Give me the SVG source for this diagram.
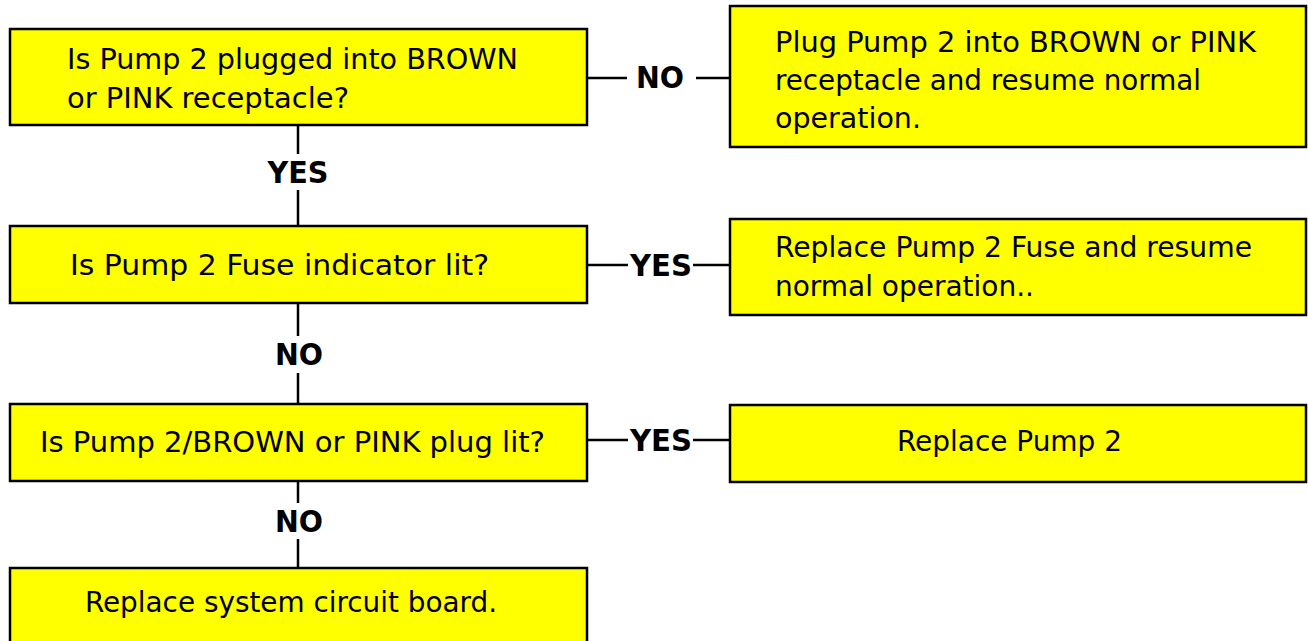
<svg xmlns="http://www.w3.org/2000/svg" width="1308" height="641" viewBox="0 0 1308 641">
<style>
.box{fill:#ffff00;stroke:#000;stroke-width:2.5}
.t{font-family:"DejaVu Sans Condensed","DejaVu Sans",sans-serif;font-size:29px;fill:#000}
.lbl{font-family:"DejaVu Sans Condensed","DejaVu Sans",sans-serif;font-size:30px;font-weight:bold;fill:#000}
.ln{stroke:#000;stroke-width:2.5;fill:none}
</style>
<rect width="1308" height="641" fill="#fff"/>
<g id="connectors">
<line class="ln" x1="587" y1="78" x2="627" y2="78"/>
<line class="ln" x1="696" y1="78" x2="730" y2="78"/>
<text class="lbl" x="660" y="88" text-anchor="middle" textLength="48" lengthAdjust="spacingAndGlyphs">NO</text>
<line class="ln" x1="298" y1="125" x2="298" y2="154"/>
<line class="ln" x1="298" y1="190" x2="298" y2="226"/>
<text class="lbl" x="298" y="183" text-anchor="middle" textLength="61" lengthAdjust="spacingAndGlyphs">YES</text>
<line class="ln" x1="587" y1="265" x2="628" y2="265"/>
<line class="ln" x1="693" y1="265" x2="730" y2="265"/>
<text class="lbl" x="661" y="276" text-anchor="middle" textLength="62" lengthAdjust="spacingAndGlyphs">YES</text>
<line class="ln" x1="298" y1="303" x2="298" y2="336"/>
<line class="ln" x1="298" y1="373" x2="298" y2="404"/>
<text class="lbl" x="299" y="365" text-anchor="middle" textLength="48" lengthAdjust="spacingAndGlyphs">NO</text>
<line class="ln" x1="587" y1="440" x2="628" y2="440"/>
<line class="ln" x1="693" y1="440" x2="730" y2="440"/>
<text class="lbl" x="661" y="451" text-anchor="middle" textLength="62" lengthAdjust="spacingAndGlyphs">YES</text>
<line class="ln" x1="298" y1="481" x2="298" y2="503"/>
<line class="ln" x1="298" y1="539" x2="298" y2="568"/>
<text class="lbl" x="299" y="532" text-anchor="middle" textLength="48" lengthAdjust="spacingAndGlyphs">NO</text>
</g>
<g id="q1">
<rect class="box" x="10" y="29" width="577" height="96"/>
<text class="t" x="67" y="69" textLength="451" lengthAdjust="spacingAndGlyphs">Is Pump 2 plugged into BROWN</text>
<text class="t" x="67" y="108" textLength="282" lengthAdjust="spacingAndGlyphs">or PINK receptacle?</text>
</g>
<g id="a1">
<rect class="box" x="730" y="6" width="576" height="141"/>
<text class="t" x="775" y="52" textLength="481" lengthAdjust="spacingAndGlyphs">Plug Pump 2 into BROWN or PINK</text>
<text class="t" x="775" y="90" textLength="426" lengthAdjust="spacingAndGlyphs">receptacle and resume normal</text>
<text class="t" x="775" y="128" textLength="146" lengthAdjust="spacingAndGlyphs">operation.</text>
</g>
<g id="q2">
<rect class="box" x="10" y="226" width="577" height="77"/>
<text class="t" x="70" y="275" textLength="419" lengthAdjust="spacingAndGlyphs">Is Pump 2 Fuse indicator lit?</text>
</g>
<g id="a2">
<rect class="box" x="730" y="219" width="576" height="96"/>
<text class="t" x="775" y="257" textLength="477" lengthAdjust="spacingAndGlyphs">Replace Pump 2 Fuse and resume</text>
<text class="t" x="775" y="296" textLength="259" lengthAdjust="spacingAndGlyphs">normal operation..</text>
</g>
<g id="q3">
<rect class="box" x="10" y="404" width="577" height="77"/>
<text class="t" x="40" y="452" textLength="505" lengthAdjust="spacingAndGlyphs">Is Pump 2/BROWN or PINK plug lit?</text>
</g>
<g id="a3">
<rect class="box" x="730" y="405" width="576" height="77"/>
<text class="t" x="897" y="451" textLength="225" lengthAdjust="spacingAndGlyphs">Replace Pump 2</text>
</g>
<g id="q4">
<rect class="box" x="10" y="568" width="577" height="80"/>
<text class="t" x="85" y="612" textLength="412" lengthAdjust="spacingAndGlyphs">Replace system circuit board.</text>
</g>
</svg>
